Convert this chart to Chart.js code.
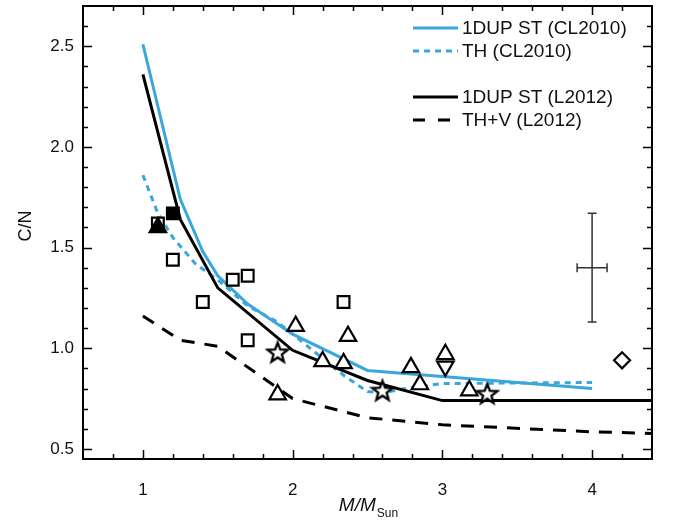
<!DOCTYPE html>
<html><head><meta charset="utf-8">
<script src="https://cdn.jsdelivr.net/npm/chart.js@4.4.1/dist/chart.umd.min.js"></script>
<style>html,body{margin:0;padding:0;background:#fff}canvas{display:block}</style>
</head><body>
<canvas id="c" width="675" height="524"></canvas>
<script>
const FONT = '"Liberation Sans", Arial, Helvetica, sans-serif';
const BLUE = '#3aa7dc';

// ---- model curves ----
const cl2010StX = [1.0, 1.25, 1.4, 1.5, 1.7, 2.0, 2.5, 3.0, 4.0];
const cl2010StY = [2.51, 1.74, 1.48, 1.36, 1.22, 1.07, 0.89, 0.86, 0.80];
const cl2010ThX = [1.0, 1.1, 1.2, 1.35, 1.5, 1.7, 1.9, 2.1, 2.35, 2.5, 2.6, 2.8, 3.0, 4.0];
const cl2010ThY = [1.86, 1.67, 1.55, 1.42, 1.34, 1.21, 1.13, 1.01, 0.86, 0.785, 0.78, 0.805, 0.825, 0.83];
const l2012StX = [1.0, 1.25, 1.5, 2.0, 2.5, 3.0, 4.0, 6.0];
const l2012StY = [2.36, 1.64, 1.30, 0.99, 0.84, 0.74, 0.74, 0.74];
const l2012ThvX = [1.0, 1.25, 1.5, 2.0, 2.5, 3.0, 4.0, 6.0];
const l2012ThvY = [1.16, 1.04, 1.01, 0.75, 0.655, 0.62, 0.585, 0.545];

// ---- observed stars ----
const openSqX = [1.1, 1.2, 1.4, 1.6, 1.7, 1.7, 2.34];
const openSqY = [1.62, 1.44, 1.23, 1.34, 1.36, 1.04, 1.23];
const fillSqX = [1.2];
const fillSqY = [1.67];
const fillTriX = [1.1];
const fillTriY = [1.60];
const upTriX = [1.9, 2.02, 2.2, 2.34, 2.37, 2.79, 2.85, 3.02, 3.18];
const upTriY = [0.77, 1.11, 0.935, 0.925, 1.06, 0.905, 0.82, 0.97, 0.79];
const downTriX = [3.02];
const downTriY = [0.91];
const starX = [1.9, 2.6, 3.3];
const starY = [0.98, 0.79, 0.775];
const diamondX = [4.2];
const diamondY = [0.94];

// ---- typical error bar ----
const errX = [4.0];
const errY = [1.40];
const errDx = [0.1];
const errDy = [0.27];

// ---- axes ----
const xMin = 0.6, xMax = 4.4, yMin = 0.45, yMax = 2.7;
const xTicks = [0.8, 1.0, 1.2, 1.4, 1.6, 1.8, 2.0, 2.2, 2.4, 2.6, 2.8, 3.0, 3.2, 3.4, 3.6, 3.8, 4.0, 4.2];
const xMajor = [1, 2, 3, 4];
const xTickLabels = ['1', '2', '3', '4'];
const yTicks = [0.5, 0.6, 0.7, 0.8, 0.9, 1.0, 1.1, 1.2, 1.3, 1.4, 1.5, 1.6, 1.7, 1.8, 1.9, 2.0, 2.1, 2.2, 2.3, 2.4, 2.5, 2.6];
const yMajor = [0.5, 1.0, 1.5, 2.0, 2.5];
const yTickLabels = ['0.5', '1.0', '1.5', '2.0', '2.5'];

const legendItems = [
  { label: '1DUP ST (CL2010)', color: BLUE, dash: [] },
  { label: 'TH (CL2010)', color: BLUE, dash: [6, 5] },
  null,
  { label: '1DUP ST (L2012)', color: '#000', dash: [] },
  { label: 'TH+V (L2012)', color: '#000', dash: [12, 13] }
];

const pts = (xs, ys) => xs.map((x, i) => ({ x, y: ys[i] }));
const near = (v, arr) => arr.findIndex(a => Math.abs(a - v) < 1e-6);

// star marker image
function makeStar() {
  const c = document.createElement('canvas');
  c.width = 26; c.height = 26;
  const g = c.getContext('2d');
  const R = 10.5, r = 4.4, cx = 13, cy = 13.8;
  g.beginPath();
  for (let i = 0; i < 10; i++) {
    const a = -Math.PI / 2 + i * Math.PI / 5;
    const rr = i % 2 === 0 ? R : r;
    const px = cx + rr * Math.cos(a), py = cy + rr * Math.sin(a);
    if (i === 0) g.moveTo(px, py); else g.lineTo(px, py);
  }
  g.closePath();
  g.fillStyle = '#fff'; g.fill();
  g.lineWidth = 2.3; g.lineJoin = 'miter'; g.strokeStyle = '#000'; g.stroke();
  return c;
}
const starImg = makeStar();

function lineDs(label, xs, ys, color, dash, width) {
  return { type: 'line', label, data: pts(xs, ys), borderColor: color, borderWidth: width,
    borderDash: dash, pointRadius: 0, fill: false, tension: 0, order: 10, borderCapStyle: 'butt' };
}
function markDs(label, xs, ys, style, radius, fillColor, extra) {
  return Object.assign({ type: 'scatter', label, data: pts(xs, ys), pointStyle: style, pointRadius: radius,
    pointBorderWidth: 2.2, pointBorderColor: '#000', pointBackgroundColor: fillColor, showLine: false }, extra || {});
}

const PLOT_TOP = 6;

const framePlugin = {
  id: 'frame',
  afterLayout(chart) {
    const y = chart.scales.y;
    chart.chartArea.top = PLOT_TOP;
    chart.chartArea.height = chart.chartArea.bottom - PLOT_TOP;
    y.top = PLOT_TOP;
    y.height = y.bottom - PLOT_TOP;
    y.configure();
  },
  afterDatasetsDraw(chart) {
    const { ctx, scales: { x, y } } = chart;
    ctx.save();
    ctx.strokeStyle = '#333'; ctx.lineWidth = 1.5;
    errX.forEach((ex, i) => {
      const px = x.getPixelForValue(ex), py = y.getPixelForValue(errY[i]);
      const x1 = x.getPixelForValue(ex - errDx[i]), x2 = x.getPixelForValue(ex + errDx[i]);
      const y1 = y.getPixelForValue(errY[i] + errDy[i]), y2 = y.getPixelForValue(errY[i] - errDy[i]);
      const cap = 4.5;
      ctx.beginPath();
      ctx.moveTo(px, y1); ctx.lineTo(px, y2);
      ctx.moveTo(px - cap, y1); ctx.lineTo(px + cap, y1);
      ctx.moveTo(px - cap, y2); ctx.lineTo(px + cap, y2);
      ctx.moveTo(x1, py); ctx.lineTo(x2, py);
      ctx.moveTo(x1, py - cap); ctx.lineTo(x1, py + cap);
      ctx.moveTo(x2, py - cap); ctx.lineTo(x2, py + cap);
      ctx.stroke();
    });
    ctx.restore();
  },
  afterDraw(chart) {
    const { ctx, chartArea: a, scales: { x, y } } = chart;
    ctx.save();
    ctx.strokeStyle = '#000';
    ctx.lineWidth = 2;
    ctx.strokeRect(a.left, a.top, a.right - a.left, a.bottom - a.top);
    ctx.lineWidth = 1.5;
    ctx.beginPath();
    xTicks.forEach(v => {
      const px = Math.round(x.getPixelForValue(v)) + 0.5;
      const len = near(v, xMajor) >= 0 ? 9 : 5;
      ctx.moveTo(px, a.bottom); ctx.lineTo(px, a.bottom - len);
      ctx.moveTo(px, a.top); ctx.lineTo(px, a.top + len);
    });
    yTicks.forEach(v => {
      const py = Math.round(y.getPixelForValue(v)) + 0.5;
      const len = near(v, yMajor) >= 0 ? 9 : 5;
      ctx.moveTo(a.left, py); ctx.lineTo(a.left + len, py);
      ctx.moveTo(a.right, py); ctx.lineTo(a.right - len, py);
    });
    ctx.stroke();

    // legend
    ctx.font = '19px ' + FONT;
    ctx.textBaseline = 'middle';
    ctx.fillStyle = '#111';
    const rows = [28, 51, 74, 97, 120];
    legendItems.forEach((it, i) => {
      if (!it) return;
      const yy = rows[i];
      ctx.beginPath();
      ctx.strokeStyle = it.color; ctx.lineWidth = 3; ctx.setLineDash(it.dash);
      ctx.moveTo(413, yy); ctx.lineTo(458, yy); ctx.stroke();
      ctx.setLineDash([]);
      ctx.fillText(it.label, 462, yy + 1);
    });

    // axis titles
    ctx.fillStyle = '#111';
    ctx.save();
    ctx.translate(26, 226);
    ctx.rotate(-Math.PI / 2);
    ctx.textAlign = 'center'; ctx.textBaseline = 'middle';
    ctx.font = '18px ' + FONT;
    ctx.fillText('C/N', 0, 0);
    ctx.restore();

    ctx.textBaseline = 'alphabetic'; ctx.textAlign = 'left';
    ctx.font = 'italic 19px ' + FONT;
    const w1 = ctx.measureText('M/M').width;
    ctx.font = '12px ' + FONT;
    const w2 = ctx.measureText('Sun').width;
    const startX = 368 - (w1 + w2) / 2;
    ctx.font = 'italic 19px ' + FONT;
    ctx.fillText('M/M', startX, 511);
    ctx.font = '12px ' + FONT;
    ctx.fillText('Sun', startX + w1 + 1, 517);
    ctx.restore();
  }
};

new Chart(document.getElementById('c'), {
  type: 'scatter',
  data: {
    datasets: [
      markDs('diamond', diamondX, diamondY, 'rectRot', 8, '#fff', { order: 1 }),
      markDs('stars', starX, starY, starImg, 10, '#fff', { order: 1 }),
      markDs('filled triangle', fillTriX, fillTriY, 'triangle', 9.5, '#000', { order: 0 }),
      markDs('filled square', fillSqX, fillSqY, 'rect', 8.3, '#000', { order: 1 }),
      markDs('open squares', openSqX, openSqY, 'rect', 8.3, '#fff', { order: 2 }),
      markDs('down triangles', downTriX, downTriY, 'triangle', 9.5, '#fff', { order: 2, pointRotation: 180 }),
      markDs('up triangles', upTriX, upTriY, 'triangle', 9.5, '#fff', { order: 2 }),
      lineDs('TH+V (L2012)', l2012ThvX, l2012ThvY, '#000', [13, 10], 3),
      lineDs('1DUP ST (L2012)', l2012StX, l2012StY, '#000', [], 3),
      lineDs('TH (CL2010)', cl2010ThX, cl2010ThY, BLUE, [6, 5], 3),
      lineDs('1DUP ST (CL2010)', cl2010StX, cl2010StY, BLUE, [], 3)
    ]
  },
  options: {
    responsive: false,
    devicePixelRatio: 1,
    animation: false,
    events: [],
    layout: { padding: { left: 0, top: 6, right: 23, bottom: 0 } },
    plugins: { legend: { display: false }, tooltip: { enabled: false } },
    scales: {
      x: {
        type: 'linear', min: xMin, max: xMax,
        afterBuildTicks: s => { s.ticks = xTicks.map(v => ({ value: v })); },
        afterFit: s => { s.height = 65; s.paddingLeft = 0; s.paddingRight = 0; },
        grid: { display: false, drawTicks: false },
        border: { display: false },
        ticks: {
          autoSkip: false, maxRotation: 0, padding: 21,
          color: '#111', font: { family: FONT, size: 17 },
          callback: v => { const i = near(v, xMajor); return i >= 0 ? xTickLabels[i] : ''; }
        }
      },
      y: {
        type: 'linear', min: yMin, max: yMax,
        afterBuildTicks: s => { s.ticks = yTicks.map(v => ({ value: v })); },
        afterFit: s => { s.width = 83; s.paddingTop = 0; s.paddingBottom = 0; },
        grid: { display: false, drawTicks: false },
        border: { display: false },
        ticks: {
          autoSkip: false, padding: 9,
          color: '#111', font: { family: FONT, size: 17 },
          callback: v => { const i = near(v, yMajor); return i >= 0 ? yTickLabels[i] : ''; }
        }
      }
    }
  },
  plugins: [framePlugin]
});
</script>
</body></html>
